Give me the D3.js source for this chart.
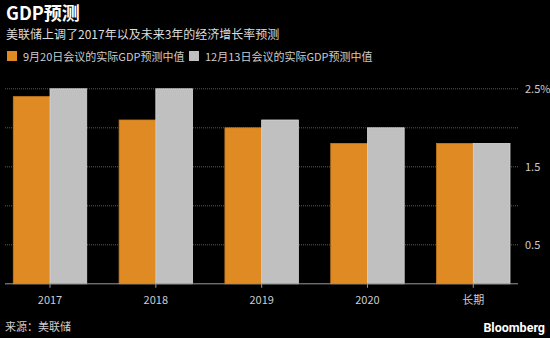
<!DOCTYPE html>
<html>
<head>
<meta charset="utf-8">
<script src="https://cdn.jsdelivr.net/npm/d3@7"></script>
<style>
  body { margin: 0; background: #000; }
  svg { display: block; font-family: "Noto Sans CJK SC", "Noto Sans", sans-serif; }
</style>
</head>
<body>
<div id="chart"></div>
<script>
// chart data
const categories = ["2017", "2018", "2019", "2020", "长期"];
const septValues = [2.4, 2.1, 2.0, 1.8, 1.8];
const decValues = [2.5, 2.5, 2.1, 2.0, 1.8];
const seriesNames = ["9月20日会议的实际GDP预测中值", "12月13日会议的实际GDP预测中值"];
const tickValues = [0.5, 1.0, 1.5, 2.0, 2.5];
const tickLabels = ["0.5", "", "1.5", "", "2.5%"];

const width = 550, height = 338;
const orange = "#e08a24", grey = "#c0c0c0";

const svg = d3.select("#chart").append("svg")
    .attr("width", width)
    .attr("height", height);

svg.append("rect").attr("width", width).attr("height", height).attr("fill", "#000");

// titles
svg.append("text")
    .attr("x", 6).attr("y", 20)
    .attr("fill", "#fff")
    .style("font-size", "18px")
    .style("font-weight", "bold")
    .text("GDP预测");

svg.append("text")
    .attr("x", 6).attr("y", 39)
    .attr("fill", "#ddd")
    .style("font-size", "12px")
    .text("美联储上调了2017年以及未来3年的经济增长率预测");

// legend
const legendX = [7, 189];
seriesNames.forEach((name, i) => {
    const g = svg.append("g").attr("transform", `translate(${legendX[i]},51)`);
    g.append("rect").attr("width", 10).attr("height", 10)
        .attr("fill", i === 0 ? orange : grey);
    g.append("text")
        .attr("x", 16).attr("y", 9.5)
        .attr("fill", "#ccc")
        .style("font-size", "11px")
        .text(name);
});

// scales
const plotLeft = 5, plotRight = 518, baseY = 283.8;
const y = d3.scaleLinear().domain([0, 2.5]).range([baseY, 88.8]);

const x0 = d3.scaleBand()
    .domain(categories)
    .range([-2.9, 526.2])
    .paddingInner(0.306)
    .paddingOuter(0.153);

const x1 = d3.scaleBand()
    .domain([0, 1])
    .range([0, x0.bandwidth()]);

// gridlines
svg.append("g")
    .selectAll("line")
    .data(tickValues)
    .enter().append("line")
    .attr("x1", plotLeft).attr("x2", plotRight)
    .attr("y1", d => y(d)).attr("y2", d => y(d))
    .attr("stroke", "#5a5a5a")
    .attr("stroke-width", 1)
    .attr("stroke-dasharray", "1,1");

// right axis labels
svg.append("g")
    .selectAll("text")
    .data(tickValues)
    .enter().append("text")
    .attr("x", 525)
    .attr("y", d => y(d) + 4)
    .attr("fill", "#ccc")
    .style("font-size", "11px")
    .text((d, i) => tickLabels[i]);

// bars
const groups = svg.append("g")
    .selectAll("g")
    .data(categories)
    .enter().append("g")
    .attr("transform", d => `translate(${x0(d)},0)`);

groups.each(function(d, i) {
    const vals = [septValues[i], decValues[i]];
    d3.select(this).selectAll("rect")
        .data(vals)
        .enter().append("rect")
        .attr("x", (v, j) => x1(j))
        .attr("y", v => y(v))
        .attr("width", x1.bandwidth())
        .attr("height", v => baseY - y(v))
        .attr("fill", (v, j) => j === 0 ? orange : grey)
        .attr("stroke", (v, j) => j === 0 ? "#c97a1c" : "#d8d8d8")
        .attr("stroke-width", 0.8);
});

// x axis
svg.append("line")
    .attr("x1", plotLeft).attr("x2", plotRight)
    .attr("y1", baseY).attr("y2", baseY)
    .attr("stroke", "#999").attr("stroke-width", 1);

svg.append("g")
    .selectAll("line")
    .data(categories)
    .enter().append("line")
    .attr("x1", d => x0(d) + x0.bandwidth() / 2)
    .attr("x2", d => x0(d) + x0.bandwidth() / 2)
    .attr("y1", baseY).attr("y2", baseY + 4)
    .attr("stroke", "#999");

svg.append("g")
    .selectAll("text")
    .data(categories)
    .enter().append("text")
    .attr("x", d => x0(d) + x0.bandwidth() / 2)
    .attr("y", 304)
    .attr("text-anchor", "middle")
    .attr("fill", "#ccc")
    .style("font-size", "11px")
    .text(d => d);

// footer
svg.append("text")
    .attr("x", 5).attr("y", 331)
    .attr("fill", "#ccc")
    .style("font-size", "11px")
    .text("来源：美联储");

svg.append("text")
    .attr("x", 545).attr("y", 332)
    .attr("text-anchor", "end")
    .attr("fill", "#fff")
    .style("font-family", "Roboto, 'Liberation Sans', sans-serif")
    .style("font-size", "12.5px")
    .style("font-weight", "bold")
    .text("Bloomberg");
</script>
</body>
</html>
